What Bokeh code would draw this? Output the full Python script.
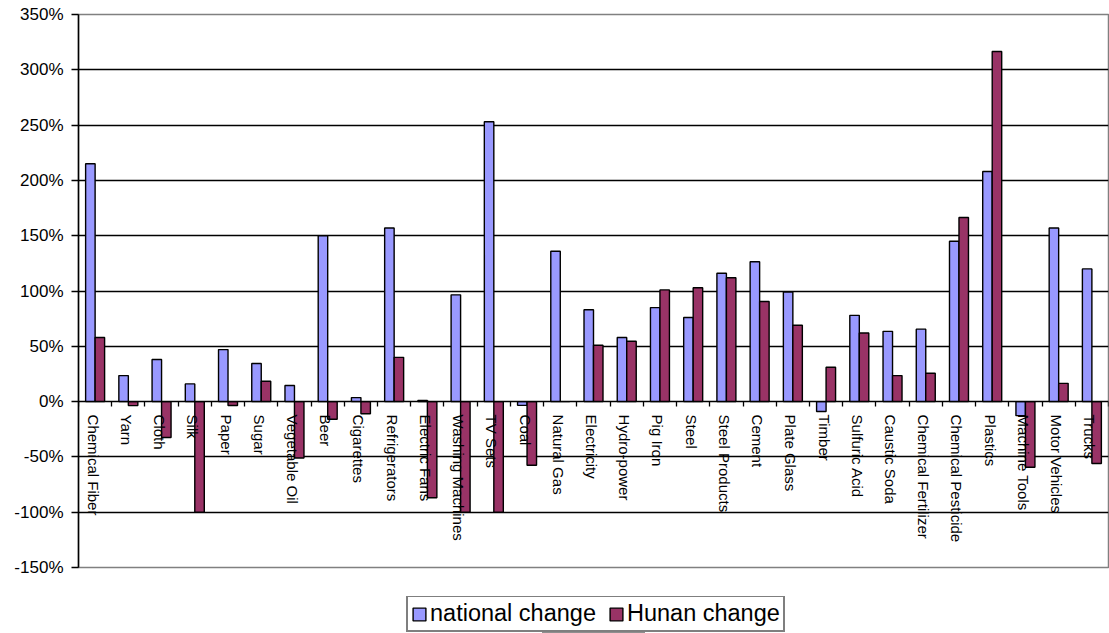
import numpy as np
from bokeh.plotting import figure
from bokeh.layouts import column
from bokeh.models import Range1d, FixedTicker, PrintfTickFormatter, Legend, LegendItem, ColumnDataSource
from bokeh.core.properties import value
from bokeh.embed import file_html
from bokeh.resources import INLINE

categories = ["Chemical Fiber", "Yarn", "Cloth", "Silk", "Paper", "Sugar", "Vegetable Oil", "Beer",
              "Cigarettes", "Refrigerators", "Electric Fans", "Washing Machines", "TV Sets", "Coal",
              "Natural Gas", "Electricity", "Hydro-power", "Pig Iron", "Steel", "Steel Products",
              "Cement", "Plate Glass", "Timber", "Sulfuric Acid", "Caustic Soda", "Chemical Fertilizer",
              "Chemical Pesticide", "Plastics", "Machine Tools", "Motor Vehicles", "Trucks"]
national_change = [215, 23.5, 38, 16, 47, 34.5, 14.5, 150, 3.6, 157, 1, 96.5, 253, -3.4, 136, 83, 58,
                   85, 76, 116, 126.5, 99, -9, 78, 63.5, 65.5, 145, 208, -12.7, 157, 120]
hunan_change = [58, -3.6, -32.5, -100, -3.5, 18.4, -51, -16, -11, 40, -87, -100, -100, -57.6, 0, 51,
                54.5, 101, 103, 112, 90.5, 69, 31, 62, 23.5, 25.6, 166.5, 316.5, -59.4, 16.5, -56]
series_names = ["national change", "Hunan change"]
series_colors = ["#9999FF", "#993366"]

y_ticks = [-150, -100, -50, 0, 50, 100, 150, 200, 250, 300, 350]

n = len(categories)
centers = np.arange(n) + 0.5
bw = 0.2857

src = ColumnDataSource(dict(
    cat=categories,
    xc=centers,
    xn=centers - bw / 2,
    xh=centers + bw / 2,
    nat=national_change,
    hun=hunan_change,
    zero=[0] * n,
))

p = figure(width=1109, height=596, frame_width=1030, frame_height=553,
           output_backend="svg", toolbar_location=None,
           x_range=Range1d(0, n), y_range=Range1d(-150, 350),
           min_border_left=78, min_border_top=14, min_border_right=1, min_border_bottom=29)
p.background_fill_color = "white"
p.border_fill_color = "white"
p.outline_line_color = "#808080"
p.outline_line_width = 1.5

rn = p.vbar(x="xn", top="nat", bottom=0, width=bw, source=src,
            fill_color=series_colors[0], line_color="black", line_width=1.4)
rh = p.vbar(x="xh", top="hun", bottom=0, width=bw, source=src,
            fill_color=series_colors[1], line_color="black", line_width=1.4)

# y axis
p.yaxis.ticker = FixedTicker(ticks=y_ticks)
p.yaxis.formatter = PrintfTickFormatter(format="%d%%")
p.yaxis.major_label_text_font = "Liberation Sans"
p.yaxis.major_label_text_font_size = "17px"
p.yaxis.major_label_text_color = "black"
p.yaxis.axis_line_color = "black"
p.yaxis.axis_line_width = 1.5
p.yaxis.major_tick_out = 7
p.yaxis.major_tick_in = 0
p.yaxis.major_tick_line_width = 1.3
p.yaxis.minor_tick_line_color = None
p.yaxis.major_label_standoff = 8

# x axis at zero
p.xaxis.fixed_location = 0
p.xaxis.ticker = FixedTicker(ticks=[], minor_ticks=list(range(0, n + 1)))
p.xaxis.axis_line_color = "black"
p.xaxis.axis_line_width = 1.5
p.xaxis.minor_tick_out = 5
p.xaxis.minor_tick_in = 0
p.xaxis.minor_tick_line_color = "black"
p.xaxis.minor_tick_line_width = 1.3
p.xaxis.major_tick_line_color = None
p.xaxis.major_label_text_font_size = "0px"

p.xgrid.grid_line_color = None
p.ygrid.ticker = FixedTicker(ticks=[t for t in y_ticks if t not in (-150, 350, 0)])
p.ygrid.grid_line_color = "black"
p.ygrid.grid_line_width = 1.3

# category labels, rotated, under the zero line
p.text(x="xc", y="zero", text="cat", source=src, angle=-np.pi / 2,
       text_font=value("Liberation Sans"), text_font_size="15px", text_color="black",
       text_align="left", text_baseline="middle", x_offset=-2, y_offset=13)

# legend strip below the chart (helper bars sit outside its visible range)
lg = figure(width=1109, height=37, output_backend="svg", toolbar_location=None,
            x_axis_type=None, y_axis_type=None, x_range=Range1d(0, 1), y_range=Range1d(1, 2),
            min_border=0)
lg.outline_line_color = None
lg.xgrid.grid_line_color = None
lg.ygrid.grid_line_color = None
helper = ColumnDataSource(dict(x=[0.5], top=[0]))
items = []
for name, col in zip(series_names, series_colors):
    r = lg.vbar(x="x", top="top", bottom=0, width=0.1, source=helper,
                fill_color=col, line_color="black", line_width=1.4)
    items.append(LegendItem(label=name, renderers=[r]))

legend = Legend(items=items, orientation="horizontal", location=(328, 1),
                label_text_font="Liberation Sans", label_text_font_size="23.5px",
                label_text_color="black", glyph_width=16, glyph_height=16,
                label_standoff=3, spacing=12, padding=3, margin=0,
                border_line_color="black", border_line_width=2,
                background_fill_color="white", background_fill_alpha=1)
lg.add_layout(legend, "center")

layout = column(p, lg, spacing=0)
open("out.html", "w").write(file_html(layout, INLINE))
